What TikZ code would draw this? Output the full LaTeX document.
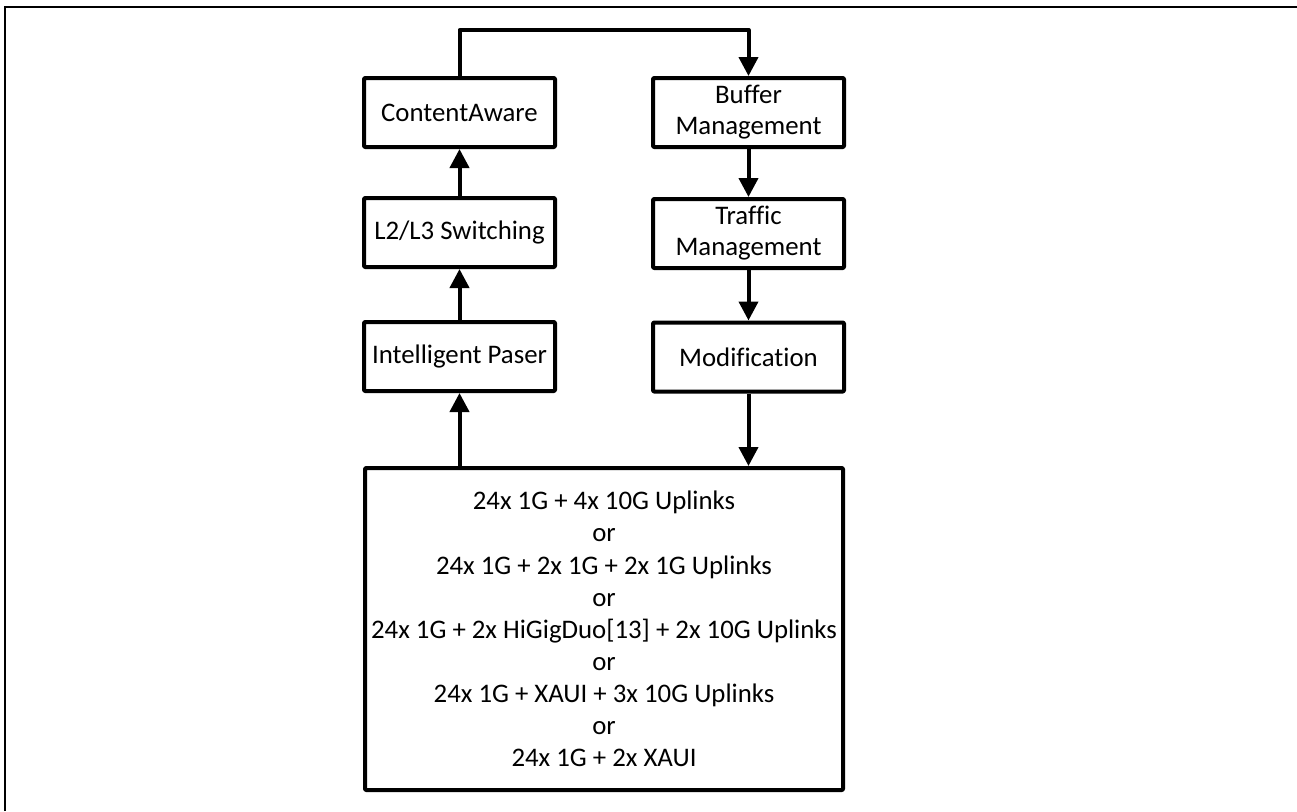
\documentclass[tikz,border=0pt]{standalone}
\usepackage{fontspec}
\setmainfont{Carlito}[Ligatures=NoCommon]
\usetikzlibrary{arrows.meta}
\begin{document}
\begin{tikzpicture}[x=1pt,y=-1pt,
  blockbox/.style={draw, line width=4pt, line join=round, rounded corners=1pt,
    inner sep=0pt, minimum width=191pt, minimum height=69pt, align=center,
    font=\fontsize{26.8}{31}\selectfont},
  flow/.style={line width=4pt, line join=round,
    -{Triangle[width=19pt,length=19pt]}},
  frameline/.style={line width=2pt}]
  \useasboundingbox (0,0) rectangle (1297,811);

  % page frame (top and left edges)
  \draw[frameline] (5,811) -- (5,7) -- (1297,7);

  % ingress column
  \node[blockbox] (content) at (459.5,112.5) {ContentAware};
  \node[blockbox] (switch)  at (459.5,232.5) {L2/L3 Switching};
  \node[blockbox] (parser)  at (459.5,356.5) {Intelligent Paser};

  % egress column
  \node[blockbox] (buffer)  at (748.5,112.5) {Buffer\\Management};
  \node[blockbox] (traffic) at (748.5,233.5) {Traffic\\Management};
  \node[blockbox] (modif)   at (748.5,357)   {Modification};

  % port configurations
  \node[blockbox, minimum width=478pt, minimum height=322pt,
    font=\fontsize{26.8}{32.1}\selectfont] (ports) at (604,629)
    {24x 1G + 4x 10G Uplinks\\or\\24x 1G + 2x 1G + 2x 1G Uplinks\\or\\
     24x 1G + 2x HiGigDuo[13] + 2x 10G Uplinks\\or\\
     24x 1G + XAUI + 3x 10G Uplinks\\or\\24x 1G + 2x XAUI};

  % connectors
  \coordinate (bend) at (459.5,30);
  \draw[flow] (ports.north -| parser) -- (parser.south);
  \draw[flow] (parser) -- (switch);
  \draw[flow] (switch) -- (content);
  \draw[flow] (content.north) -- (bend) -| (buffer.north);
  \draw[flow] (buffer) -- (traffic);
  \draw[flow] (traffic) -- (modif);
  \draw[flow] (modif.south) -- (modif.south |- ports.north);
\end{tikzpicture}
\end{document}
